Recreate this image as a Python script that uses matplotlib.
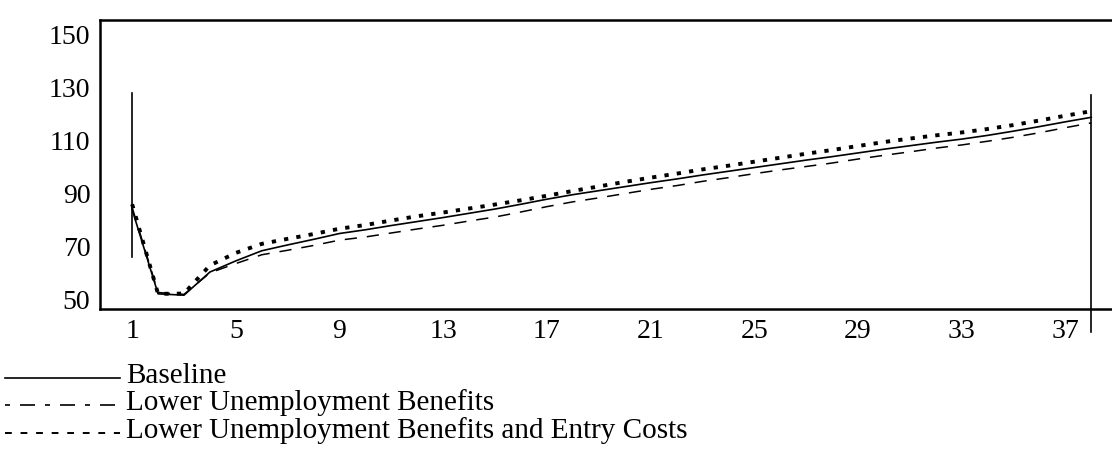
import matplotlib
matplotlib.use("Agg")
import matplotlib.pyplot as plt
from matplotlib.lines import Line2D

# ---- data -------------------------------------------------------------
periods = list(range(1, 39))
baseline = [84.0, 52.3, 51.8, 60.5, 64.7, 68.5, 70.7, 72.8, 75.0, 76.4,
            78.0, 79.5, 81.0, 82.6, 84.2, 86.0, 87.9, 89.6, 91.1, 92.6,
            94.1, 95.5, 97.0, 98.4, 99.8, 101.2, 102.6, 103.9, 105.3, 106.7,
            108.0, 109.3, 110.5, 111.9, 113.5, 115.2, 117.0, 118.7]
lower_ub = [84.8, 52.8, 52.1, 60.2, 63.7, 67.0, 68.7, 70.5, 72.5, 73.7,
            75.2, 76.7, 78.1, 79.7, 81.2, 83.1, 85.1, 86.9, 88.4, 90.0,
            91.6, 93.0, 94.6, 96.0, 97.5, 98.9, 100.2, 101.5, 103.0, 104.4,
            105.7, 107.1, 108.3, 109.7, 111.2, 112.9, 114.8, 116.6]
lower_ub_entry = [86.0, 52.3, 52.4, 63.0, 67.7, 71.1, 73.0, 74.8, 76.8, 78.2,
                  79.9, 81.5, 82.9, 84.4, 85.9, 87.5, 89.2, 91.0, 92.7, 94.4,
                  96.0, 97.5, 99.1, 100.5, 102.0, 103.5, 105.0, 106.4, 107.9, 109.4,
                  110.7, 111.9, 113.0, 114.3, 115.8, 117.5, 119.3, 121.0]
labels = ["Baseline",
          "Lower Unemployment Benefits",
          "Lower Unemployment Benefits and Entry Costs"]
xticks = [1, 5, 9, 13, 17, 21, 25, 29, 33, 37]
yticks = [50, 70, 90, 110, 130, 150]
# vertical marker lines (period, lower value, upper value)
vmarks = [(1, 66.0, 128.0), (38, 38.0, 127.0)]

# ---- figure -----------------------------------------------------------
plt.rcParams['font.family'] = ['Liberation Serif', 'DejaVu Serif']
W, H = 1112, 463
fig = plt.figure(figsize=(W / 100, H / 100), dpi=100)
ax = fig.add_axes([100 / W, 1 - 309 / H, 1 - 100 / W, (309 - 20) / H])

ax.plot(periods, baseline, color='black', lw=1.2, solid_joinstyle='round')
ax.plot(periods, lower_ub, color='black', lw=1.1, dashes=(8, 6.5))
ax.plot(periods, lower_ub_entry, color='black', lw=2.8, dashes=(1.1, 2.1))

for p, lo, hi in vmarks:
    ax.plot([p, p], [lo, hi], color='black', lw=1.2, clip_on=False)

ax.set_xlim(-0.24, 38.8)
ax.set_ylim(46.6, 155.3)
ax.set_xticks(xticks)
ax.set_xticklabels([str(t) for t in xticks])
ax.set_yticks(yticks)
ax.set_yticklabels([str(t) for t in yticks])
ax.tick_params(axis='both', length=0, labelsize=20)
ax.tick_params(axis='x', pad=7)
ax.tick_params(axis='y', pad=7)
ax.spines['right'].set_visible(False)
for s in ('left', 'top', 'bottom'):
    ax.spines[s].set_linewidth(1.8)

# ---- legend below the plot -------------------------------------------
styles = [dict(lw=1.2),
          dict(lw=1.2, dashes=(3, 6, 9, 6)),
          dict(lw=1.4, dashes=(3.5, 4.5))]
rows_y = [376, 403, 431]
for lab, st, yy in zip(labels, styles, rows_y):
    yf = 1 - yy / H
    fig.add_artist(Line2D([5 / W, 120 / W], [yf - 2 / H, yf - 2 / H], color='black',
                          transform=fig.transFigure, **st))
    fig.text(126 / W, yf, lab, fontsize=21, va='center', ha='left')

fig.savefig("out.png", dpi=100)
